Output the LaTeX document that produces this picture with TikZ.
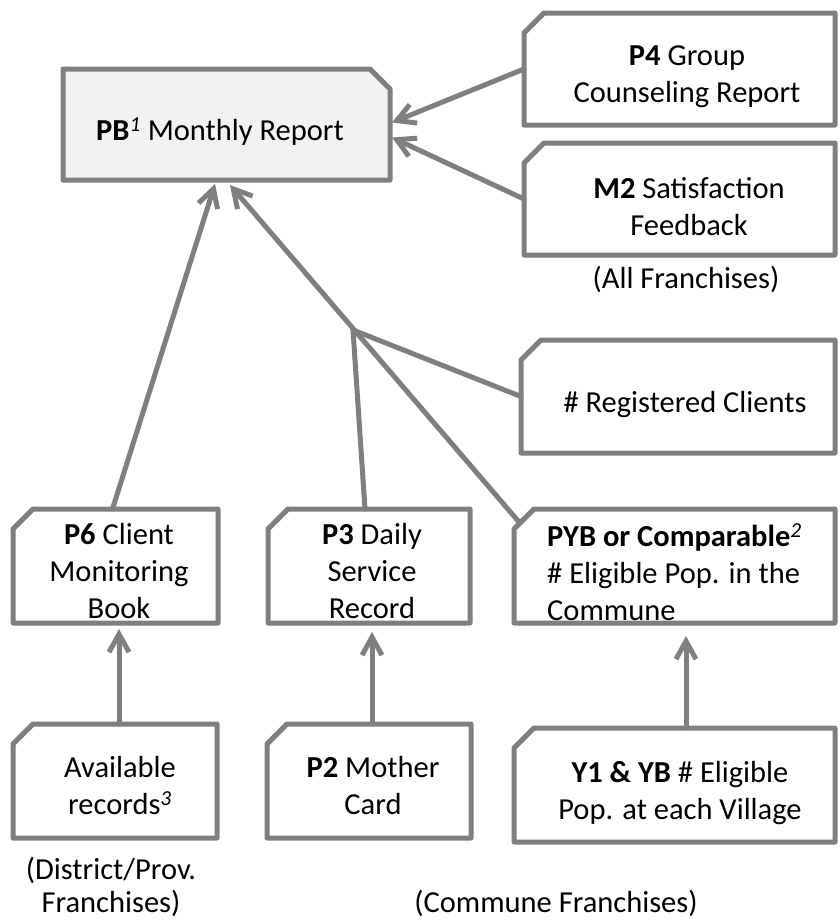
\documentclass[tikz,border=0pt]{standalone}
\usepackage{fontspec}
\setmainfont{Carlito}
\usetikzlibrary{arrows.meta,calc}
\definecolor{linegray}{HTML}{7F7F7F}
\definecolor{pbfill}{HTML}{F2F2F2}
\tikzset{
 frame/.style={rectangle, draw=none, inner sep=0pt, outer sep=0pt},
 bord/.style={draw=linegray, line width=5pt, line join=round},
 conn/.style={draw=linegray, line width=5pt, line cap=round},
 arr/.style={conn, -{Straight Barb[length=18pt,width=20pt]}},
 txt/.style={anchor=north, inner sep=0pt, align=center, font=\fontsize{30.5}{37}\selectfont, execute at begin node={\rule{0pt}{26pt}}},
}
\newcommand\chamNW[2]{\filldraw[bord, fill=#2] (#1.south west) -- ($(#1.north west)+(0,20)$) -- ($(#1.north west)+(20,0)$) -- (#1.north east) -- (#1.south east) -- cycle;}
\newcommand\chamNE[2]{\filldraw[bord, fill=#2] (#1.south west) -- (#1.north west) -- ($(#1.north east)+(-20,0)$) -- ($(#1.north east)+(0,20)$) -- (#1.south east) -- cycle;}
\begin{document}
\begin{tikzpicture}[x=1pt,y=-1pt]
\useasboundingbox (0,0) rectangle (839,922);
% frames
\node[frame, minimum width=327, minimum height=111] (pb) at (226.5,124.5) {};
\node[frame, minimum width=311, minimum height=112] (p4) at (679.5,69) {};
\node[frame, minimum width=311, minimum height=112] (m2) at (679.5,199) {};
\node[frame, minimum width=314, minimum height=113] (reg) at (678,396.5) {};
\node[frame, minimum width=205, minimum height=114] (p6) at (115.5,566) {};
\node[frame, minimum width=202, minimum height=114] (p3) at (369,566) {};
\node[frame, minimum width=321, minimum height=114] (pyb) at (674.5,566) {};
\node[frame, minimum width=204, minimum height=114] (avail) at (115,781) {};
\node[frame, minimum width=204, minimum height=114] (p2) at (369,781) {};
\node[frame, minimum width=321, minimum height=114] (y1) at (674.5,785) {};
\coordinate (j) at (353,330);
% outlines
\chamNE{pb}{pbfill}
\chamNW{p4}{white}
\chamNW{m2}{white}
\chamNW{reg}{white}
\chamNW{p6}{white}
\chamNW{p3}{white}
\chamNW{pyb}{white}
\chamNW{avail}{white}
\chamNW{p2}{white}
\chamNW{y1}{white}
% connectors
\draw[arr] (p4.west) -- ($(pb.east)+(2,-2)$);
\draw[arr] (m2.west) -- ($(pb.east)+(2,13)$);
\draw[arr] ($(p6.north)+(-3,0)$) -- ($(pb.south)+(-11.5,4)$);
\draw[arr] ($(pyb.north west)+(5,13)$) -- ($(pb.south)+(3.5,5)$);
\draw[conn] ($(p3.north)+(-4,0)$) -- (j);
\draw[conn] (reg.west) -- (j);
\draw[arr] ($(avail.north)+(4,0)$) -- ($(p6.south)+(3.5,6)$);
\draw[arr] ($(p2.north)+(3,0)$) -- ($(p3.south)+(3,9)$);
\draw[arr] ($(y1.north)+(11.5,0)$) -- ($(pyb.south)+(11.5,13)$);
% texts
\node[txt] (tpb) at (220,114) {\textbf{PB}\textsuperscript{\itshape 1} Monthly Report};
\node[txt] (tp4) at (687,46) {\textbf{P4} Group\\Counseling Report};
\node[txt] (tm2) at (689,177) {\textbf{M2} Satisfaction\\Feedback};
\node[txt] (tall) at (686,262) {(All Franchises)};
\node[txt] (treg) at (685,386) {\# Registered Clients};
\node[txt] (tp6) at (119,523) {\textbf{P6} Client\\Monitoring\\Book};
\node[txt] (tp3) at (372,523) {\textbf{P3} Daily\\Service\\Record};
\node[txt, anchor=north west, align=left] (tpyb) at (547,523) {\textbf{PYB or Comparable}\textsuperscript{\itshape 2}\\\# Eligible Pop. in the\\Commune};
\node[txt] (tav) at (120,756) {Available\\records\textsuperscript{\itshape 3}};
\node[txt] (tp2) at (373,756) {\textbf{P2} Mother\\Card};
\node[txt] (ty1) at (680,761) {\textbf{Y1 \& YB} \# Eligible\\Pop. at each Village};
\node[txt] (tdis) at (111,857) {(District/Prov.\\[-4pt]Franchises)};
\node[txt] (tcom) at (556,886) {(Commune Franchises)};
\end{tikzpicture}
\end{document}
